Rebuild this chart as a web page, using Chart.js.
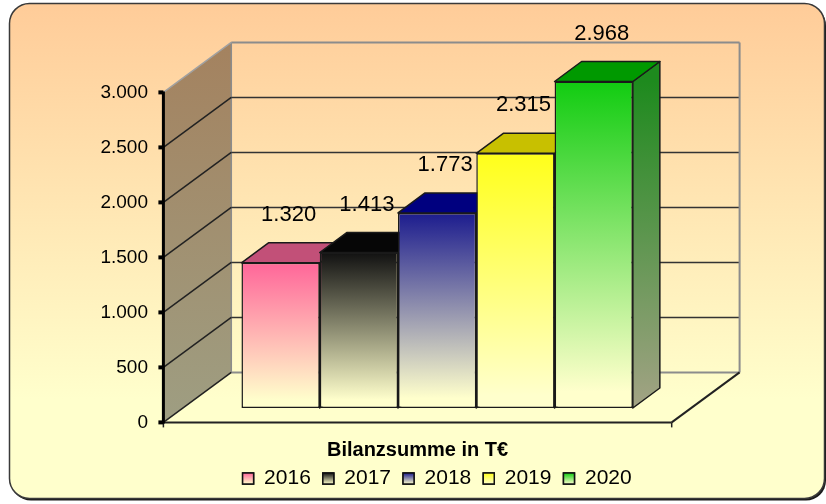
<!DOCTYPE html>
<html>
<head>
<meta charset="utf-8">
<script src="https://cdn.jsdelivr.net/npm/chart.js@4.4.1/dist/chart.umd.min.js"></script>
<style>
  html, body { margin: 0; padding: 0; background: #fff; }
  canvas { display: block; }
</style>
</head>
<body>
<canvas id="myChart" width="826" height="504"></canvas>
<script>
// data
var categories = ["Bilanzsumme in T€"];
var years = ["2016", "2017", "2018", "2019", "2020"];
var values = [1320, 1413, 1773, 2315, 2968];
var yTicks = [0, 500, 1000, 1500, 2000, 2500, 3000];

// colours per year: front (top of gradient), top face, side face
var frontColors = ["#FF6699", "#111111", "#1C1C8E", "#FFFF1A", "#11CC11"];
var topColors = ["#C25078", "#060606", "#00007F", "#C8C000", "#009900"];
var sideColors = ["#A0305A", "#000000", "#000060", "#A0A000", "#1E8A1E"];
var cream = "#FFFFCC";
var FONT = "'Liberation Sans', Arial, sans-serif";

// 3d offsets (pixels) from the plane the bars stand on
var FRONT = { dx: -19.6, dy: 14.4 };
var BACK = { dx: 48.3, dy: -35.6 };
var BAR = { dx: 27, dy: -20 };

function fmt(v) {
  return String(v).replace(/\B(?=(\d{3})+(?!\d))/g, ".");
}

function frontFill(i) {
  return function (c) {
    var chart = c.chart;
    if (!chart.chartArea || !chart.scales.y) return frontColors[i];
    var ys = chart.scales.y;
    var top = ys.getPixelForValue(c.raw), base = ys.getPixelForValue(0);
    var g = chart.ctx.createLinearGradient(0, top, 0, base);
    g.addColorStop(0, frontColors[i]);
    g.addColorStop(0.95, cream);
    g.addColorStop(1, cream);
    return g;
  };
}

function line(ctx, x1, y1, x2, y2, color, w) {
  ctx.beginPath();
  ctx.moveTo(x1, y1);
  ctx.lineTo(x2, y2);
  ctx.strokeStyle = color;
  ctx.lineWidth = w;
  ctx.stroke();
}

function poly(ctx, pts, fill, stroke, w) {
  ctx.beginPath();
  ctx.moveTo(pts[0][0], pts[0][1]);
  for (var k = 1; k < pts.length; k++) ctx.lineTo(pts[k][0], pts[k][1]);
  ctx.closePath();
  ctx.fillStyle = fill;
  ctx.fill();
  if (stroke) {
    ctx.strokeStyle = stroke;
    ctx.lineWidth = w;
    ctx.lineJoin = "round";
    ctx.stroke();
  }
}

var box3d = {
  id: "box3d",
  beforeDraw: function (chart) {
    var ctx = chart.ctx;
    ctx.save();
    ctx.fillStyle = "#fff";
    ctx.fillRect(0, 0, chart.width, chart.height);
    // shadow + rounded panel
    ctx.beginPath();
    ctx.roundRect(11, 5.5, 815, 495, 20);
    ctx.fillStyle = "#1a1a1a";
    ctx.fill();
    var g = ctx.createLinearGradient(0, 4, 0, 498);
    g.addColorStop(0, "#FFCC99");
    g.addColorStop(0.8, "#FFFFCC");
    g.addColorStop(1, "#FFFFCC");
    ctx.beginPath();
    ctx.roundRect(9.5, 3.5, 815, 495, 20);
    ctx.fillStyle = g;
    ctx.fill();
    ctx.lineWidth = 1.5;
    ctx.strokeStyle = "#3a3a3a";
    ctx.stroke();
    ctx.restore();
  },
  beforeDatasetsDraw: function (chart) {
    var ctx = chart.ctx, a = chart.chartArea, ys = chart.scales.y;
    var y0 = ys.getPixelForValue(ys.min), y1 = ys.getPixelForValue(ys.max);
    var fl = a.left + FRONT.dx, fr = a.right + FRONT.dx;
    var bl = a.left + BACK.dx, br = a.right + BACK.dx;
    ctx.save();

    // side wall
    var sg = ctx.createLinearGradient(0, y1 + BACK.dy, 0, y0 + FRONT.dy);
    sg.addColorStop(0, "#A4825F");
    sg.addColorStop(1, "#9E9E82");
    poly(ctx, [[fl, y0 + FRONT.dy], [fl, y1 + FRONT.dy], [bl, y1 + BACK.dy], [bl, y0 + BACK.dy]], sg);
    line(ctx, bl, y1 + BACK.dy, bl, y0 + BACK.dy, "#8c8c8c", 1.5);

    // grid on back wall and side wall
    yTicks.forEach(function (v) {
      var y = ys.getPixelForValue(v);
      var edge = v === ys.max || v === ys.min;
      line(ctx, bl, y + BACK.dy, br, y + BACK.dy, edge ? "#8c8c8c" : "#333", edge ? 2 : 1.5);
      line(ctx, fl, y + FRONT.dy, bl, y + BACK.dy, v === ys.max ? "#a0a0a0" : "#222", 1.5);
    });
    line(ctx, br, y1 + BACK.dy, br, y0 + BACK.dy, "#8c8c8c", 2);

    // floor edges
    line(ctx, fl, y0 + FRONT.dy, fr, y0 + FRONT.dy, "#222", 2);
    line(ctx, fr, y0 + FRONT.dy, br, y0 + BACK.dy, "#222", 2);
    line(ctx, fl, y0 + FRONT.dy, fl, y0 + FRONT.dy + 5, "#222", 1.5);
    line(ctx, fr, y0 + FRONT.dy, fr, y0 + FRONT.dy + 5, "#222", 1.5);

    // front value axis
    line(ctx, fl, y1 + FRONT.dy - 1, fl, y0 + FRONT.dy + 1, "#000", 3);
    yTicks.forEach(function (v) {
      var y = ys.getPixelForValue(v) + FRONT.dy;
      line(ctx, fl - 5, y, fl, y, "#000", 4);
    });

    // top and side faces of the bars (fronts are drawn by chart.js on top)
    chart.data.datasets.forEach(function (ds, i) {
      var el = chart.getDatasetMeta(i).data[0];
      var p = el.getProps(["x", "y", "width", "base"], true);
      var l = p.x - p.width / 2, r = p.x + p.width / 2;
      var g = ctx.createLinearGradient(0, p.y, 0, p.base);
      g.addColorStop(0, sideColors[i]);
      g.addColorStop(1, "#A3A385");
      poly(ctx, [[r, p.y], [r + BAR.dx, p.y + BAR.dy], [r + BAR.dx, p.base + BAR.dy], [r, p.base]], g, "#1a1a1a", 1.5);
      poly(ctx, [[l, p.y], [r, p.y], [r + BAR.dx, p.y + BAR.dy], [l + BAR.dx, p.y + BAR.dy]], topColors[i], "#1a1a1a", 1.5);
    });
    ctx.restore();
  },
  afterDatasetsDraw: function (chart) {
    var ctx = chart.ctx;
    ctx.save();
    ctx.font = "22px " + FONT;
    ctx.fillStyle = "#000";
    ctx.textAlign = "center";
    ctx.textBaseline = "middle";
    chart.data.datasets.forEach(function (ds, i) {
      var p = chart.getDatasetMeta(i).data[0].getProps(["x", "y"], true);
      ctx.fillText(fmt(ds.data[0]), p.x + 8, p.y - 48);
    });
    ctx.restore();
  },
  afterDraw: function (chart) {
    // gradient squares in the legend
    var lg = chart.legend, ctx = chart.ctx;
    if (!lg || !lg.legendHitBoxes) return;
    var fs = lg.options.labels.font.size, bw = lg.options.labels.boxWidth, bh = lg.options.labels.boxHeight;
    ctx.save();
    lg.legendHitBoxes.forEach(function (hb, i) {
      var x = hb.left, y = hb.top + Math.max((fs - bh) / 2, 0);
      var g = ctx.createLinearGradient(0, y, 0, y + bh);
      g.addColorStop(0, frontColors[i]);
      g.addColorStop(1, cream);
      ctx.fillStyle = g;
      ctx.fillRect(x, y, bw, bh);
      ctx.lineWidth = 1.5;
      ctx.strokeStyle = "#111";
      ctx.strokeRect(x, y, bw, bh);
    });
    ctx.restore();
  }
};

var ctx = document.getElementById("myChart").getContext("2d");

var chart = new Chart(ctx, {
  type: "bar",
  data: {
    labels: categories,
    datasets: years.map(function (y, i) {
      return {
        label: y,
        data: [values[i]],
        backgroundColor: frontFill(i),
        borderColor: "#1a1a1a",
        borderWidth: 1.5,
        borderSkipped: false,
        barPercentage: 1,
        categoryPercentage: 0.77
      };
    })
  },
  options: {
    responsive: false,
    animation: false,
    layout: { padding: { top: 78, right: 134.7, bottom: 5, left: 0 } },
    scales: {
      x: {
        grid: { display: false, drawTicks: false },
        border: { display: false },
        ticks: { color: "#000", font: { family: FONT, size: 20, weight: "bold" }, padding: 30, labelOffset: FRONT.dx },
        afterFit: function (s) { s.height = 48; }
      },
      y: {
        min: 0,
        max: 3000,
        grid: { display: false, drawTicks: false },
        border: { display: false },
        ticks: {
          color: "#000",
          font: { family: FONT, size: 19 },
          padding: 35,
          labelOffset: FRONT.dy,
          callback: function (v) { return fmt(v); }
        },
        afterBuildTicks: function (s) { s.ticks = yTicks.map(function (v) { return { value: v }; }); },
        afterFit: function (s) { s.width = 183; }
      }
    },
    plugins: {
      legend: {
        position: "bottom",
        fullSize: false,
        labels: {
          boxWidth: 11,
          boxHeight: 11,
          padding: 12,
          color: "#000",
          font: { family: FONT, size: 21 },
          generateLabels: function (chart) {
            return chart.data.datasets.map(function (ds, i) {
              return { text: ds.label, fillStyle: frontColors[i], strokeStyle: "#111", lineWidth: 1.5, hidden: false, datasetIndex: i };
            });
          }
        }
      },
      tooltip: { enabled: false }
    }
  },
  plugins: [box3d]
});
</script>
</body>
</html>
